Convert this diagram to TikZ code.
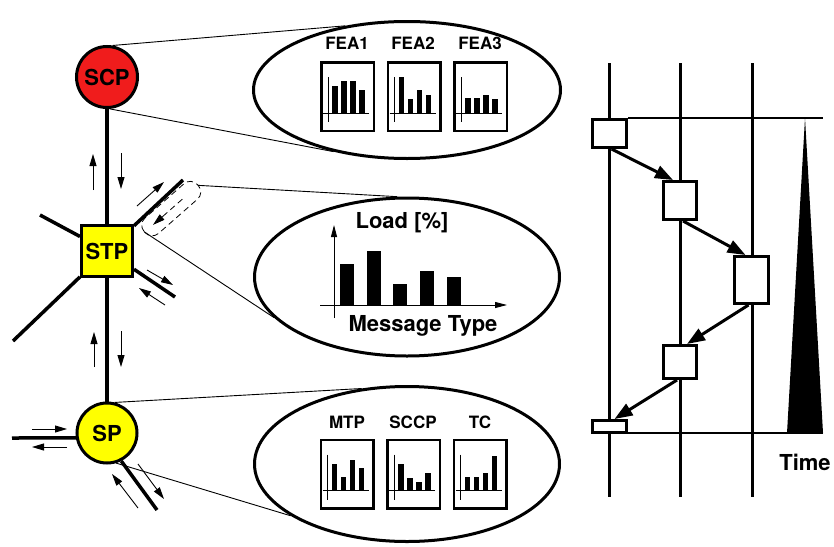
\documentclass[tikz,border=0pt]{standalone}
\usepackage{fontspec}
\setmainfont{TeX Gyre Heros}
\usetikzlibrary{arrows.meta,shapes.geometric,calc}
\definecolor{scpred}{RGB}{240,28,28}
\definecolor{nodeyellow}{RGB}{255,255,0}

% small bar chart inside a framed box: #1 box node, #2-#5 bar heights
\newcommand\minibars[5]{%
  \begin{scope}[shift={(#1.north west)}]
    \draw[line width=0.9pt] (8,16) -- (8,61);
    \draw[line width=0.9pt] (3,52) -- (49,52);
    \foreach \bx/\bh in {12/#2,21/#3,30/#4,39/#5}
      \fill (\bx,52) rectangle ++(5.5,-\bh);
  \end{scope}}

\begin{document}
\begin{tikzpicture}[x=1pt,y=-1pt,
  bigfont/.style={font=\fontsize{22}{26}\selectfont\bfseries},
  smallfont/.style={font=\fontsize{17}{20}\selectfont\bfseries},
  link/.style={line width=3.5pt},
  callout/.style={line width=0.9pt},
  msg/.style={line width=0.9pt,-{Triangle[length=12pt,width=7pt]}},
  probe/.style={line width=0.8pt,dash pattern=on 6pt off 4pt},
  netnode/.style={draw,line width=3pt,inner sep=0pt,bigfont},
  bubble/.style={ellipse,draw,line width=3pt,inner sep=0pt,minimum width=307pt,minimum height=137pt},
  chart/.style={draw,line width=2.5pt,minimum width=52.5pt,minimum height=68.5pt,inner sep=0pt},
  seqbox/.style={draw,line width=3pt,fill=white,inner sep=0pt},
  flow/.style={line width=3pt,-{Triangle[length=18pt,width=13pt]}},
  lifeline/.style={line width=3pt},
  timeline/.style={line width=1.2pt}]
\useasboundingbox (0,0) rectangle (834,546);

% ---------------- signalling network ----------------
\node[netnode,circle,fill=scpred,minimum size=61pt] (scp) at (107,77) {SCP};
\node[netnode,rectangle,fill=nodeyellow,minimum size=51pt] (stp) at (107,251) {STP};
\node[netnode,circle,fill=nodeyellow,minimum size=60pt] (sp) at (107,433) {SP};

\coordinate (stpnw) at (40,215);
\coordinate (stpsw) at (13,341);
\coordinate (stpne) at (183,180);
\coordinate (stpse) at (175,297);
\coordinate (spw) at (12,438);
\coordinate (spse) at (157,510);

\draw[link] (scp) -- (stp);
\draw[link] (stp) -- (sp);
\draw[link] (stpnw) -- (stp);
\draw[link] (stpsw) -- (stp);
\draw[link] (stpne) -- (stp);
\draw[link] (stpse) -- (stp);
\draw[link] (spw) -- (sp.189);
\draw[link] (sp.-63) -- (spse);

% message flows along the links
\draw[msg] (93,190) -- (93,154);
\draw[msg] (121,153) -- (121,189);
\draw[msg] (94,367) -- (94,332);
\draw[msg] (121,331) -- (121,367);
\draw[msg] (147,270) -- (173,285);
\draw[msg] (165,305) -- (139,288);
\draw[msg] (32,429) -- (67,429);
\draw[msg] (67,447) -- (32,447);
\draw[msg] (138,508) -- (112,474);
\draw[msg] (138,464) -- (164,499);

% monitored link: outgoing flow and probe outline with the tapped flow
\draw[msg] (137,206) -- (164,182);
\coordinate (probein) at (182.3,199.2);
\coordinate (probemid) at (162.8,216.4);
\coordinate (probeout) at (153.0,224.9);
\draw[probe] (probein) -- (probemid);
\draw[msg] (probemid) -- (probeout);
\begin{scope}[shift={(134,223)},rotate=41.3]
  \draw[probe,rounded corners=9.5pt] (2,3.5) rectangle (73,24);
  \coordinate (probetop) at (73,14);
  \coordinate (probebot) at (2,14);
\end{scope}

% ---------------- measurement bubbles ----------------
\node[bubble] (feabubble) at (407,90) {};
\node[bubble,minimum width=305pt,minimum height=158pt] (loadbubble) at (407,277) {};
\node[bubble,minimum width=305pt,minimum height=155pt] (layerbubble) at (407,464) {};

\draw[callout] (scp.80) -- (feabubble.134);
\draw[callout] (scp.-85) -- (feabubble.220);
\draw[callout] (probetop) -- (loadbubble.97);
\draw[callout] (probebot) -- (loadbubble.197);
\draw[callout] (sp.76) -- (layerbubble.121);
\draw[callout] (sp.-73) -- (layerbubble.204);

% per-feature charts
\node[smallfont] (lfea1) at (347,43) {FEA1};
\node[smallfont] (lfea2) at (413,43) {FEA2};
\node[smallfont] (lfea3) at (480,43) {FEA3};
\node[chart] (cfea1) at (347.5,96.5) {};
\node[chart] (cfea2) at (414,96.5) {};
\node[chart] (cfea3) at (480.5,96.5) {};
\minibars{cfea1}{27}{32}{32}{23}
\minibars{cfea2}{36}{14}{23}{18}
\minibars{cfea3}{15}{15}{18}{14}

% load per message type
\node[bigfont] (loadlabel) at (402,223) {Load [\%]};
\node[bigfont] (typelabel) at (423,326) {Message Type};
\coordinate (yaxis0) at (334,318);
\coordinate (yaxis1) at (334,225);
\coordinate (xaxis0) at (320,305);
\coordinate (xaxis1) at (507,305);
\draw[line width=0.9pt,-{Triangle[length=12pt,width=6pt]}] (yaxis0) -- (yaxis1);
\draw[line width=0.9pt,-{Triangle[length=12pt,width=6pt]}] (xaxis0) -- (xaxis1);
\foreach \bx/\btop in {340/264,367/251,393/284,420/271,447/277}
  \fill (\bx,305) rectangle (\bx+14,\btop);

% per-layer charts
\node[smallfont] (lmtp) at (347,422) {MTP};
\node[smallfont] (lsccp) at (413,422) {SCCP};
\node[smallfont] (ltc) at (480,422) {TC};
\node[chart] (cmtp) at (347,474) {};
\node[chart] (csccp) at (413.5,474) {};
\node[chart] (ctc) at (480,474) {};
\minibars{cmtp}{27}{14}{31}{23}
\minibars{csccp}{27}{13}{9}{18}
\minibars{ctc}{14}{14}{18}{35}

% ---------------- message sequence over time ----------------
\coordinate (l1top) at (609,63);  \coordinate (l1bot) at (609,497);
\coordinate (l2top) at (680,63);  \coordinate (l2bot) at (680,497);
\coordinate (l3top) at (752,63);  \coordinate (l3bot) at (752,497);
\draw[lifeline] (l1top) -- (l1bot);
\draw[lifeline] (l2top) -- (l2bot);
\draw[lifeline] (l3top) -- (l3bot);

\coordinate (tapex) at (805,118);
\coordinate (tbr) at (823,433);
\coordinate (tbl) at (787,433);
\coordinate (tend1) at (823,118);
\coordinate (tend2) at (823,433);

\node[seqbox,minimum width=34pt,minimum height=28pt] (sa) at (609.5,133.5) {};
\node[seqbox,minimum width=33pt,minimum height=38pt] (sb) at (680,200.5) {};
\node[seqbox,minimum width=34pt,minimum height=47pt] (sc) at (751.5,280) {};
\node[seqbox,minimum width=33pt,minimum height=33pt] (sd) at (680,362) {};
\node[seqbox,minimum width=34pt,minimum height=12pt] (se) at (609.5,426.5) {};

\draw[timeline] (sa.east |- tapex) -- (tend1);
\draw[timeline] (se.east |- tend2) -- (tend2);
\fill (tapex) -- (tbr) -- (tbl) -- cycle;
\node[bigfont] (timelabel) at (805,462) {Time};

\draw[flow] ([xshift=2pt]sa.south) -- ([xshift=-7pt]sb.north);
\draw[flow] ([xshift=3pt]sb.south) -- ([xshift=-6pt]sc.north);
\draw[flow] ([xshift=-3pt]sc.south) -- ([xshift=7pt]sd.north);
\draw[flow] ([xshift=-3pt]sd.south) -- ([xshift=5pt]se.north);
\end{tikzpicture}
\end{document}
